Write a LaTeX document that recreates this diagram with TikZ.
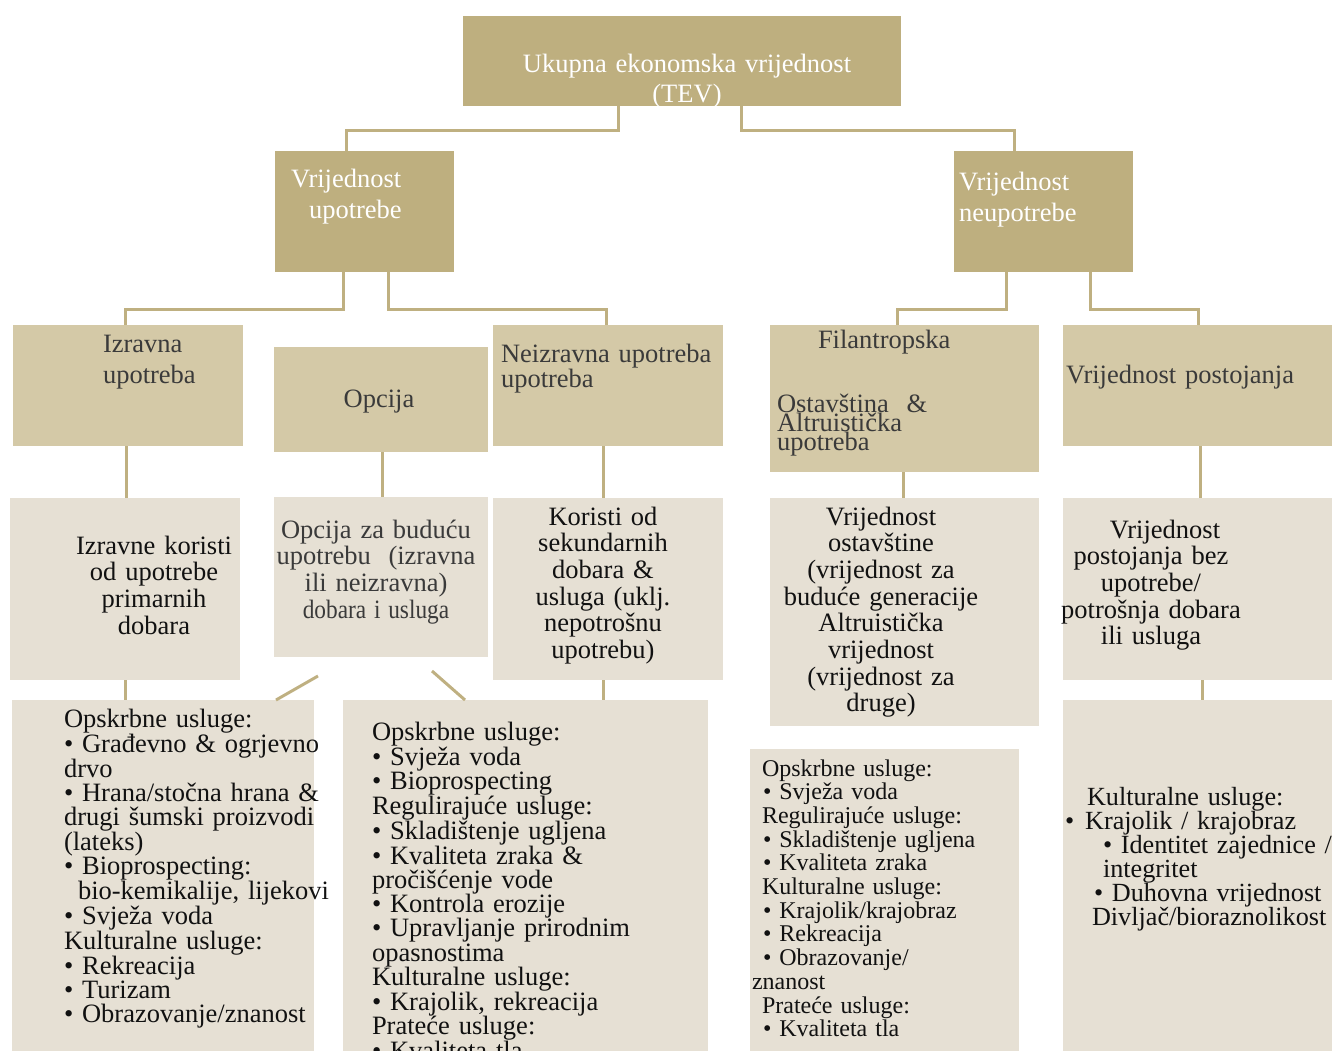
\documentclass[tikz,border=0pt]{standalone}
\usepackage{fontspec}
\setmainfont{Liberation Serif}
\definecolor{dark}{HTML}{BEAF7F}
\definecolor{mid}{HTML}{D4C9A7}
\definecolor{pale}{HTML}{E6E0D4}
\definecolor{lnk}{HTML}{BFB081}
\definecolor{greytext}{HTML}{3A3A3A}
\definecolor{ink}{HTML}{111111}
\tikzset{
  box/.style={anchor=north west, inner sep=0pt, outer sep=0pt, draw=none},
  darkbox/.style={box, fill=dark},
  midbox/.style={box, fill=mid},
  palebox/.style={box, fill=pale},
  conn/.style={draw=lnk, line width=3pt},
  txt/.style={inner sep=0pt, outer sep=0pt, text width=420pt, align=left, anchor=base west},
  ctxt/.style={inner sep=0pt, outer sep=0pt, text width=520pt, align=center, anchor=base},
  fs/.style={font=\fontsize{26.5}{#1}\selectfont},
}
\begin{document}
\begin{tikzpicture}[x=1pt, y=-1pt]
\useasboundingbox (0,0) rectangle (1333,1050);
\clip (0,0) rectangle (1333,1050);

% ---- level 1 and 2
\node[darkbox, minimum width=438pt, minimum height=90pt] (tev) at (463,16) {};
\node[darkbox, minimum width=179pt, minimum height=121pt] (vu) at (275,151) {};
\node[darkbox, minimum width=179pt, minimum height=121pt] (vn) at (954,151) {};

% ---- level 3
\node[midbox, minimum width=230pt, minimum height=121pt] (izr) at (13,325) {};
\node[midbox, minimum width=214pt, minimum height=105pt] (opc) at (274,347) {};
\node[midbox, minimum width=230pt, minimum height=121pt] (neiz) at (493,325) {};
\node[midbox, minimum width=269pt, minimum height=147pt] (fil) at (770,325) {};
\node[midbox, minimum width=269pt, minimum height=121pt] (post) at (1063,325) {};

% ---- level 4
\node[palebox, minimum width=230pt, minimum height=182pt] (kor1) at (10,498) {};
\node[palebox, minimum width=214pt, minimum height=160pt] (opb) at (274,497) {};
\node[palebox, minimum width=230pt, minimum height=182pt] (kor2) at (493,498) {};
\node[palebox, minimum width=269pt, minimum height=228pt] (ost) at (770,498) {};
\node[palebox, minimum width=269pt, minimum height=182pt] (pbez) at (1063,498) {};

% ---- level 5
\node[palebox, minimum width=302pt, minimum height=360pt] (usa) at (12,700) {};
\node[palebox, minimum width=365pt, minimum height=360pt] (usb) at (343,700) {};
\node[palebox, minimum width=269pt, minimum height=320pt] (usc) at (750,749) {};
\node[palebox, minimum width=269pt, minimum height=360pt] (usd) at (1063,700) {};

% ---- connectors
\draw[conn] ([xshift=155pt]tev.south west) -- ++(0,24) -| ([xshift=71pt]vu.north west);
\draw[conn] ([xshift=278pt]tev.south west) -- ++(0,24) -| ([xshift=60pt]vn.north west);
\draw[conn] ([xshift=68pt]vu.south west) -- ++(0,37) -| ([xshift=112pt]izr.north west);
\draw[conn] ([xshift=113pt]vu.south west) -- ++(0,37) -| ([xshift=113pt]neiz.north west);
\draw[conn] ([xshift=52pt]vn.south west) -- ++(0,37) -| ([xshift=127pt]fil.north west);
\draw[conn] ([xshift=136pt]vn.south west) -- ++(0,37) -| ([xshift=135pt]post.north west);
\draw[conn] ([xshift=113pt]izr.south west) -- ([xshift=116pt]kor1.north west);
\draw[conn] ([xshift=108pt]opc.south west) -- ([xshift=108pt]opb.north west);
\draw[conn] ([xshift=110pt]neiz.south west) -- ([xshift=110pt]kor2.north west);
\draw[conn] ([xshift=133pt]fil.south west) -- ([xshift=133pt]ost.north west);
\draw[conn] ([xshift=137pt]post.south west) -- ([xshift=137pt]pbez.north west);
\draw[conn] ([xshift=115pt]kor1.south west) -- ([xshift=113pt]usa.north west);
\draw[conn] ([xshift=110pt]kor2.south west) -- ([xshift=260pt]usb.north west);
\draw[conn] ([xshift=139pt]pbez.south west) -- ([xshift=139pt]usd.north west);
\coordinate (da) at (318,676);
\coordinate (db) at (432,671);
\draw[conn] (da) -- ([xshift=264pt]usa.north west);
\draw[conn] (db) -- ([xshift=122pt]usb.north west);

% ---- labels, levels 1 and 2
\node[ctxt, fs=30, white] (tevt) at (687,72) {Ukupna ekonomska vrijednost\\(TEV)};
\node[txt, fs=31, white] (vut) at (291,187) {Vrijednost\\\hspace*{18pt}upotrebe};
\node[txt, fs=31, white] (vnt) at (959,190) {Vrijednost\\neupotrebe};

% ---- labels, level 3
\node[txt, fs=31, greytext] (izrt) at (103,352) {Izravna\\upotreba};
\node[ctxt, fs=31, greytext] (opct) at (379,407) {Opcija};
\node[txt, fs=22, greytext] (neizt) at (501,362) {Neizravna upotreba\\upotreba};
\node[txt, fs=19, greytext] (filt) at (818,348) {Filantropska};
\node[txt, fs=19, greytext] (filt2) at (777,412) {Ostavština~~\&\\Altruistička\\upotreba};
\node[txt, fs=31, greytext] (postt) at (1066,383) {Vrijednost postojanja};

% ---- labels, level 4
\node[ctxt, fs=26.7, ink] (kor1t) at (154,554) {Izravne koristi\\od upotrebe\\primarnih\\dobara};
\node[ctxt, fs=26.7, greytext] (opbt) at (376,538) {Opcija za buduću\\upotrebu~ (izravna\\ili neizravna)\\\scalebox{0.88}[1]{dobara i usluga}};
\node[ctxt, fs=26.7, ink] (kor2t) at (603,525) {Koristi od\\sekundarnih\\dobara \&\\usluga (uklj.\\nepotrošnu\\upotrebu)};
\node[ctxt, fs=26.7, ink] (ostt) at (881,525) {Vrijednost\\ostavštine\\(vrijednost za\\buduće generacije\\Altruistička\\vrijednost\\(vrijednost za\\druge)};
\node[ctxt, fs=26.7, ink] (pbezt) at (1151,538) {\hspace*{28pt}Vrijednost\\postojanja bez\\upotrebe/\\potrošnja dobara\\ili usluga};

% ---- labels, level 5
\node[txt, fs=24, ink] (usat) at (64,727) {Opskrbne usluge:\\
• Građevno \& ogrjevno\\
drvo\\
• Hrana/stočna hrana \&\\
drugi šumski proizvodi\\
(lateks)\\
• Bioprospecting:\\
\hspace*{14pt}bio-kemikalije, lijekovi\\
• Svježa voda\\
Kulturalne usluge:\\
• Rekreacija\\
• Turizam\\
• Obrazovanje/znanost};
\node[txt, fs=24.1, ink] (usbt) at (372,740) {Opskrbne usluge:\\
• Svježa voda\\
• Bioprospecting\\
Regulirajuće usluge:\\
• Skladištenje ugljena\\
• Kvaliteta zraka \&\\
pročišćenje vode\\
• Kontrola erozije\\
• Upravljanje prirodnim\\
opasnostima\\
Kulturalne usluge:\\
• Krajolik, rekreacija\\
Prateće usluge:\\
• Kvaliteta tla};
\node[txt, font=\fontsize{24}{23.7}\selectfont, ink] (usct) at (752,776) {\hspace*{10pt}Opskrbne usluge:\\
\hspace*{11pt}• Svježa voda\\
\hspace*{10pt}Regulirajuće usluge:\\
\hspace*{11pt}• Skladištenje ugljena\\
\hspace*{11pt}• Kvaliteta zraka\\
\hspace*{10pt}Kulturalne usluge:\\
\hspace*{11pt}• Krajolik/krajobraz\\
\hspace*{11pt}• Rekreacija\\
\hspace*{11pt}• Obrazovanje/\\
znanost\\
\hspace*{10pt}Prateće usluge:\\
\hspace*{11pt}• Kvaliteta tla};
\node[txt, font=\fontsize{26.2}{24.1}\selectfont, ink] (usdt) at (1065,805) {\hspace*{22pt}Kulturalne usluge:\\
•\hspace*{11pt}Krajolik / krajobraz\\
\hspace*{38pt}• Identitet zajednice /\\
\hspace*{38pt}integritet\\
\hspace*{29pt}• Duhovna vrijednost\\
\hspace*{27pt}Divljač/bioraznolikost};
\end{tikzpicture}
\end{document}
